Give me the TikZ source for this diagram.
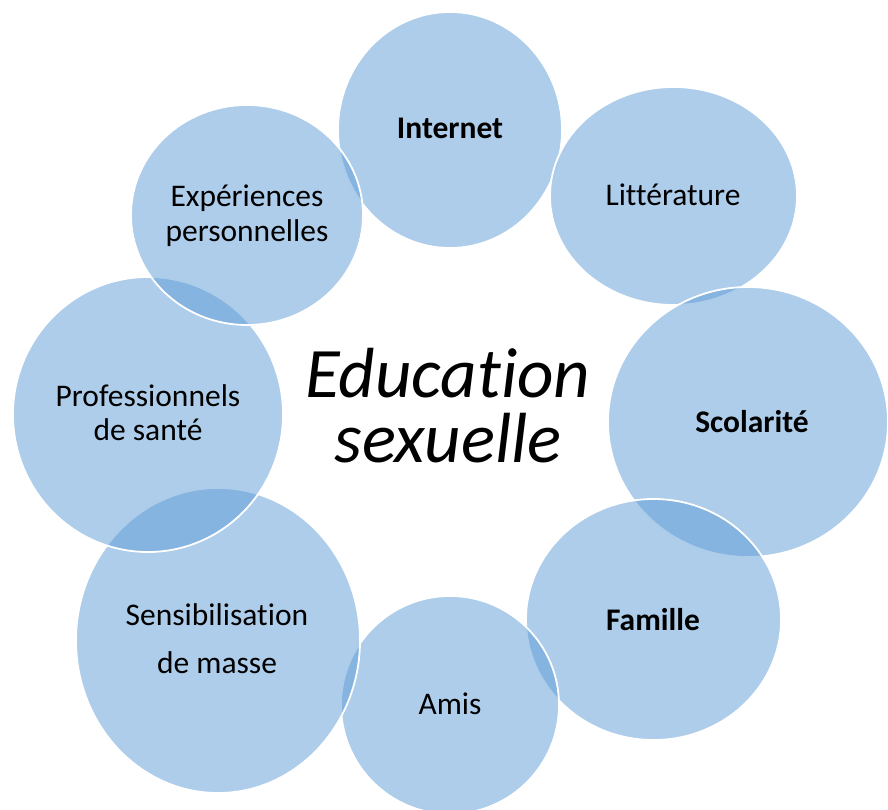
\documentclass[tikz,border=0pt]{standalone}
\usepackage{fontspec}
\setmainfont{Carlito}[Ligatures=NoCommon]
\definecolor{bubblefill}{HTML}{5B9BD5}
\tikzset{
  bubble/.style={fill=bubblefill, fill opacity=0.5, draw=white, draw opacity=1, line width=1.8pt},
  lab/.style={font=\fontsize{31.5}{34.5}\selectfont, text=black, align=center, inner sep=0pt},
  labbold/.style={lab, font=\fontsize{31.5}{34.5}\selectfont\bfseries},
  title/.style={font=\fontsize{71}{65}\selectfont\itshape, text=black, align=center, inner sep=0pt}
}
\begin{document}
\begin{tikzpicture}[x=1pt,y=-1pt]
\useasboundingbox (0,0) rectangle (888,810);
\clip (0,0) rectangle (888,810);
% bubbles, in drawing order
\path[bubble] (450,130) ellipse [x radius=112pt, y radius=118pt];
\path[bubble] (673.5,196) ellipse [x radius=123.5pt, y radius=109pt];
\path[bubble] (748,422) ellipse [x radius=140pt, y radius=135pt];
\path[bubble] (653.5,619.5) ellipse [x radius=127.5pt, y radius=120.5pt];
\path[bubble] (450,705) ellipse [x radius=109pt, y radius=109pt];
\path[bubble] (218,640.5) ellipse [x radius=142pt, y radius=152.5pt];
\path[bubble] (148,414.5) ellipse [x radius=135pt, y radius=137.5pt];
\path[bubble] (247,215) ellipse [x radius=116pt, y radius=110pt];
% labels
\node[labbold, anchor=base] (internet) at (450,139) {Internet};
\node[lab, anchor=base] (litt) at (673,206) {Littérature};
\node[labbold, anchor=base] (scol) at (752,432) {Scolarité};
\node[labbold, anchor=base] (fam) at (653,630) {Famille};
\node[lab, anchor=base] (amis) at (450,714) {Amis};
\node[lab, font=\fontsize{31.5}{48}\selectfont] (sens) at (217,639) {Sensibilisation\\de masse};
\node[lab] (pro) at (148,412.5) {Professionnels\\de santé};
\node[lab] (exp) at (247,215.5) {Expériences\\personnelles};
\node[title] (title) at (448,406) {Education\\sexuelle};
\end{tikzpicture}
\end{document}
